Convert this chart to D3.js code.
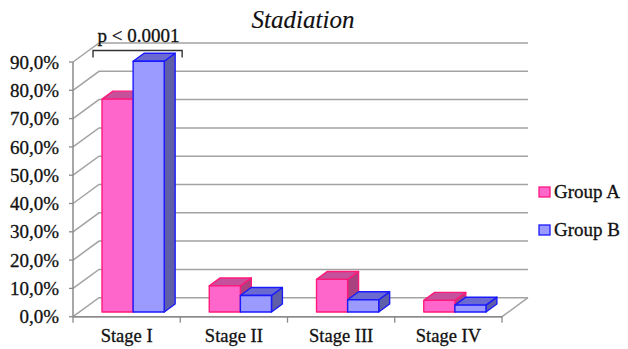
<!DOCTYPE html>
<html>
<head>
<meta charset="utf-8">
<script src="https://cdn.jsdelivr.net/npm/d3@7/dist/d3.min.js"></script>
<style>
  html, body { margin: 0; padding: 0; background: #fff; }
  svg { display: block; }
  text { font-family: "Liberation Serif", "Times New Roman", serif; fill: #111; stroke: #111; stroke-width: 0.3px; }
</style>
</head>
<body>
<svg id="chart" width="628" height="349"></svg>
<script>
// Share of patients per tumour stage (%)
const categories = ["Stage I", "Stage II", "Stage III", "Stage IV"];
const groupA = [75.2, 9.2, 11.5, 4.1];
const groupB = [88.6, 5.8, 4.3, 2.4];
const seriesNames = ["Group A", "Group B"];
const yTicks = [0, 10, 20, 30, 40, 50, 60, 70, 80, 90];

const svg = d3.select("#chart");

// Oblique 3D projection: depth z in [0,1] shifts a point up and to the right
const DX = 26, DY = -19;
const x = d3.scaleBand().domain(categories).range([73, 502]).paddingInner(0).paddingOuter(0);
const y = d3.scaleLinear().domain([0, 90]).range([316.7, 62]);
const P = (px, v, z) => [px + z * DX, y(v) + z * DY];

const colors = [
  { front: "#ff66cc", top: "#c5509b", side: "#a8437f", stroke: "#ff1a7a" },
  { front: "#9a9aff", top: "#6a6ad0", side: "#5f5fa8", stroke: "#1a1aff" }
];

const grid = svg.append("g").attr("stroke", "#a3a3a3").attr("stroke-width", 1.5).attr("fill", "none");
const x0 = x.range()[0], x1 = x.range()[1];
// back wall gridlines and side wall diagonals
yTicks.forEach(t => {
  const a = P(x0, t, 0), b = P(x0, t, 1), c = P(x1, t, 1);
  grid.append("path").attr("d", `M${a}L${b}L${c}`);
});
// floor
grid.append("path").attr("d", `M${P(x0,0,0)}L${P(x1,0,0)}L${P(x1,0,1)}`);
// front value axis
svg.append("line").attr("stroke", "#8a8a8a").attr("stroke-width", 1.5)
  .attr("x1", x0).attr("x2", x0).attr("y1", y(90)).attr("y2", y(0));
svg.append("line").attr("stroke", "#8a8a8a").attr("stroke-width", 1.5)
  .attr("x1", x0).attr("x2", x1).attr("y1", y(0)).attr("y2", y(0));

// axis ticks
const tickG = svg.append("g").attr("stroke", "#8a8a8a").attr("stroke-width", 1.3);
yTicks.forEach(t => tickG.append("line").attr("x1", x0 - 4).attr("x2", x0).attr("y1", y(t)).attr("y2", y(t)));
const bounds = categories.map(c => x(c)).concat([x1]);
bounds.forEach(b => tickG.append("line").attr("x1", b).attr("x2", b).attr("y1", y(0)).attr("y2", y(0) + 6));

// y labels
const fmt = v => d3.format(".1f")(v).replace(".", ",") + "%";
svg.append("g").selectAll("text").data(yTicks).join("text")
  .attr("x", 59).attr("y", d => y(d)).attr("dy", "0.35em")
  .attr("text-anchor", "end").attr("font-size", 19).text(fmt);

// x labels
svg.append("g").selectAll("text").data(categories).join("text")
  .attr("x", d => x(d) + x.bandwidth() / 2).attr("y", 342)
  .attr("text-anchor", "middle").attr("font-size", 18.5).text(d => d);

// 3D bars
const groupW = x.bandwidth() * 0.58;
const barW = groupW / 2;
const z0 = 0.25, z1 = 0.67;
const bars = svg.append("g").attr("stroke-width", 1.4).attr("stroke-linejoin", "round");
categories.forEach((c, i) => {
  [groupA[i], groupB[i]].forEach((v, s) => {
    const col = colors[s];
    const left = x(c) + x.bandwidth() / 2 - groupW / 2 + s * barW;
    const right = left + barW;
    const fbl = P(left, 0, z0), fbr = P(right, 0, z0), ftr = P(right, v, z0), ftl = P(left, v, z0);
    const btl = P(left, v, z1), btr = P(right, v, z1), bbr = P(right, 0, z1);
    const g = bars.append("g").attr("stroke", col.stroke);
    g.append("path").attr("fill", col.side).attr("d", `M${fbr}L${bbr}L${btr}L${ftr}Z`);
    g.append("path").attr("fill", col.top).attr("d", `M${ftl}L${ftr}L${btr}L${btl}Z`);
    g.append("path").attr("fill", col.front).attr("d", `M${fbl}L${fbr}L${ftr}L${ftl}Z`);
  });
});

// significance bracket over Stage I
const sLeft = x(categories[0]) + x.bandwidth() / 2 - groupW / 2 + z0 * DX - 9;
const sRight = x(categories[0]) + x.bandwidth() / 2 + groupW / 2 + z1 * DX + 7;
svg.append("path").attr("fill", "none").attr("stroke", "#333").attr("stroke-width", 1.4)
  .attr("d", `M${sLeft},57.5V50.5H${sRight}V57.5`);
svg.append("text").attr("x", (sLeft + sRight) / 2 + 1).attr("y", 42)
  .attr("text-anchor", "middle").attr("font-size", 19).text("p < 0.0001");

// title
svg.append("text").attr("x", 303).attr("y", 28).attr("text-anchor", "middle")
  .attr("font-size", 25).attr("font-style", "italic").style("stroke-width", "0.15px").text("Stadiation");

// legend
const leg = svg.append("g").selectAll("g").data(seriesNames).join("g")
  .attr("transform", (d, i) => `translate(539,${187 + i * 38})`);
leg.append("rect").attr("width", 11).attr("height", 10)
  .attr("fill", (d, i) => colors[i].front).attr("stroke", (d, i) => colors[i].stroke).attr("stroke-width", 1.3);
leg.append("text").attr("x", 15).attr("y", 11).attr("font-size", 19).text(d => d);
</script>
</body>
</html>
